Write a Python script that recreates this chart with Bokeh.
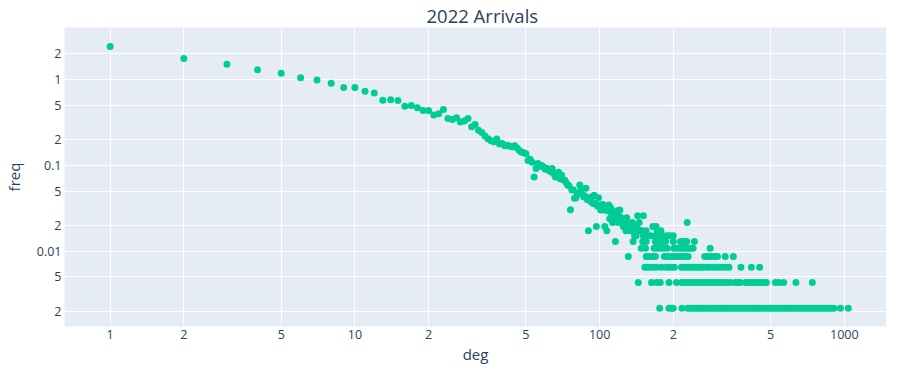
from bokeh.plotting import figure
from bokeh.models import ColumnDataSource, FixedTicker, Range1d, CustomJSTickFormatter, Title
from bokeh.embed import file_html
from bokeh.resources import INLINE

# ---------------- data ----------------
head_deg = list(range(1, 50))
head_freq = [2.44, 1.76, 1.51, 1.30, 1.19, 1.05, 0.99, 0.91, 0.81, 0.81,
             0.73, 0.70, 0.574, 0.584, 0.57, 0.49, 0.50, 0.47, 0.436, 0.436,
             0.386, 0.40, 0.45, 0.353, 0.344, 0.36, 0.32, 0.33, 0.353, 0.283,
             0.30, 0.257, 0.242, 0.22, 0.205, 0.194, 0.189, 0.203, 0.178, 0.18,
             0.17, 0.172, 0.167, 0.165, 0.17, 0.16, 0.149, 0.142, 0.14]

mid_deg = [50, 51, 52, 53, 54, 55, 56, 57, 58, 59, 60, 61, 62, 63, 64, 65, 66, 67, 68, 69,
           70, 71, 72, 73, 74, 75, 76, 77, 78, 79, 80, 81, 82, 83, 84, 85, 86, 87, 88, 89,
           90, 91, 92, 93, 94, 95, 96, 97, 98, 99, 100, 101, 102, 103, 104, 105, 106, 107,
           108, 109, 110, 111, 112, 113, 114, 115, 117, 118, 119, 120, 121, 122, 123, 124,
           125, 126, 127, 128, 129, 130, 132, 133, 134, 135, 136, 138, 139, 140, 142, 145, 149]
mid_freq = [0.137, 0.114, 0.118, 0.109, 0.073, 0.092, 0.105, 0.098, 0.10, 0.096,
            0.09, 0.092, 0.088, 0.085, 0.092, 0.08, 0.073, 0.08, 0.083, 0.07,
            0.077, 0.068, 0.067, 0.063, 0.059, 0.058, 0.0305, 0.0515, 0.052, 0.0414,
            0.042, 0.047, 0.048, 0.059, 0.054, 0.046, 0.043, 0.044, 0.054, 0.04,
            0.0173, 0.042, 0.038, 0.043, 0.036, 0.045, 0.036, 0.0194, 0.0336, 0.042,
            0.0346, 0.0302, 0.0324, 0.035, 0.0302, 0.0194, 0.0336, 0.0173, 0.0296, 0.0346,
            0.0238, 0.032, 0.0259, 0.0216, 0.0281, 0.027, 0.0238, 0.0296, 0.0216, 0.0259,
            0.0302, 0.0246, 0.0238, 0.0216, 0.0194, 0.0216, 0.0238, 0.0173, 0.0246, 0.0194,
            0.0173, 0.0207, 0.0194, 0.0173, 0.0216, 0.018, 0.0151, 0.016, 0.0194, 0.0216, 0.0173]

# tail: degrees observed at each (quantised) frequency level
level_freq = [0.00216, 0.00432, 0.00648, 0.00864, 0.0108, 0.013,
              0.0151, 0.0173, 0.0194, 0.0216, 0.0259]
row1_deg = [176, 192, 197, 200, 217, 229, 234, 240, 246, 251, 257, 263, 269, 276, 282,
            289, 296, 303, 310, 317, 325, 332, 340, 348, 356, 365, 373, 382, 391, 401,
            410, 420, 430, 440, 450, 461, 472, 483, 494, 506, 518, 530, 543, 556, 569,
            582, 596, 610, 624, 639, 654, 670, 685, 702, 718, 735, 753, 770, 789, 807,
            826, 846, 866, 886, 907, 964, 1038]
row2_deg = [144, 163, 171, 177, 192, 206, 217, 222, 228, 235, 241, 250, 258, 266, 275,
            283, 292, 300, 310, 320, 330, 342, 358, 367, 375, 395, 405, 415, 428, 440,
            453, 467, 480, 523, 540, 565, 634, 740]
row3_deg = [153, 157, 162, 166, 171, 179, 187, 192, 197, 202, 216, 221, 227, 233, 240,
            246, 252, 258, 263, 273, 281, 290, 299, 308, 318, 328, 338, 378, 417, 451]
row4_deg = [131, 155, 160, 165, 169, 184, 189, 194, 199, 204, 209, 214, 219, 224, 230,
            269, 277, 285, 295, 303, 326, 352]
row5_deg = [148, 154, 167, 172, 177, 183, 189, 201, 206, 212, 218, 224, 230, 236, 241, 283]
row6_deg = [116, 137, 150, 155, 169, 174, 180, 186, 200, 214, 220, 227, 244]
row7_deg = [141, 151, 156, 162, 169, 175, 182, 189, 194, 200]
row8_deg = [147, 155, 172, 178]
row9_deg = [165, 170]
row10_deg = [228]
row12_deg = [143, 151]

x_ticks = [1, 2, 5, 10, 20, 50, 100, 200, 500, 1000]
x_tick_labels = ["1", "2", "5", "10", "2", "5", "100", "2", "5", "1000"]
y_ticks = [0.002, 0.005, 0.01, 0.02, 0.05, 0.1, 0.2, 0.5, 1, 2]
y_tick_labels = ["2", "5", "0.01", "2", "5", "0.1", "2", "5", "1", "2"]

# ---------------- assemble ----------------
rows = [row1_deg, row2_deg, row3_deg, row4_deg, row5_deg, row6_deg,
        row7_deg, row8_deg, row9_deg, row10_deg, row12_deg]
deg = list(head_deg) + list(mid_deg)
freq = list(head_freq) + list(mid_freq)
for r, f in zip(rows, level_freq):
    deg += r
    freq += [f] * len(r)
src = ColumnDataSource(dict(deg=deg, freq=freq))

FONT = "Open Sans"
TXT = "#2a3f5f"
X0, X1 = 0.6507, 1487
Y0, Y1 = 0.001323, 4.054

p = figure(width=886, height=367, x_axis_type="log", y_axis_type="log",
           x_range=Range1d(X0, X1), y_range=Range1d(Y0, Y1),
           output_backend="svg", toolbar_location=None,
           min_border_left=58, min_border_right=0, min_border_top=22, min_border_bottom=41)

p.title.text = "2022 Arrivals"
p.title.align = "left"
p.title.offset = 362
p.title.text_font = FONT
p.title.text_font_size = "18.5px"
p.title.text_font_style = "normal"
p.title.text_color = TXT
p.title.standoff = 0

p.background_fill_color = "#E5ECF6"
p.border_fill_color = "white"
p.outline_line_color = None

p.xgrid.ticker = FixedTicker(ticks=x_ticks)
p.ygrid.ticker = FixedTicker(ticks=y_ticks)
for g in (p.xgrid, p.ygrid):
    g.grid_line_color = "white"
    g.grid_line_width = 1
    g.minor_grid_line_color = None

LOOKUP = """
let best = 0;
const lt = Math.log10(tick);
for (let i = 0; i < tvals.length; i++) {
  if (Math.abs(Math.log10(tvals[i]) - lt) < Math.abs(Math.log10(tvals[best]) - lt)) best = i;
}
return tlabels[best];
"""
p.xaxis.ticker = FixedTicker(ticks=x_ticks)
p.yaxis.ticker = FixedTicker(ticks=y_ticks)
p.xaxis.formatter = CustomJSTickFormatter(args=dict(tvals=x_ticks, tlabels=x_tick_labels), code=LOOKUP)
p.yaxis.formatter = CustomJSTickFormatter(args=dict(tvals=y_ticks, tlabels=y_tick_labels), code=LOOKUP)

for ax in (p.xaxis[0], p.yaxis[0]):
    ax.axis_line_color = None
    ax.major_tick_line_color = None
    ax.minor_tick_line_color = None
    ax.major_tick_out = 0
    ax.major_tick_in = 0
    ax.major_label_text_font = FONT
    ax.major_label_text_font_size = "12.5px"
    ax.major_label_text_color = TXT
    ax.axis_label_text_font = FONT
    ax.axis_label_text_font_size = "15px"
    ax.axis_label_text_font_style = "normal"
    ax.axis_label_text_color = TXT

p.yaxis.axis_label = "freq"
p.xaxis.major_label_standoff = 3
p.yaxis.major_label_standoff = 3
p.yaxis.axis_label_standoff = 10

# x-axis title placed under the tick labels
p.add_layout(Title(text="deg", align="center", text_font=FONT, text_font_size="15px",
                   text_font_style="normal", text_color=TXT, standoff=0), "below")

p.scatter(x="deg", y="freq", source=src, size=7, fill_color="#00CC96",
          line_color=None)

open("out.html", "w").write(file_html(p, INLINE))
